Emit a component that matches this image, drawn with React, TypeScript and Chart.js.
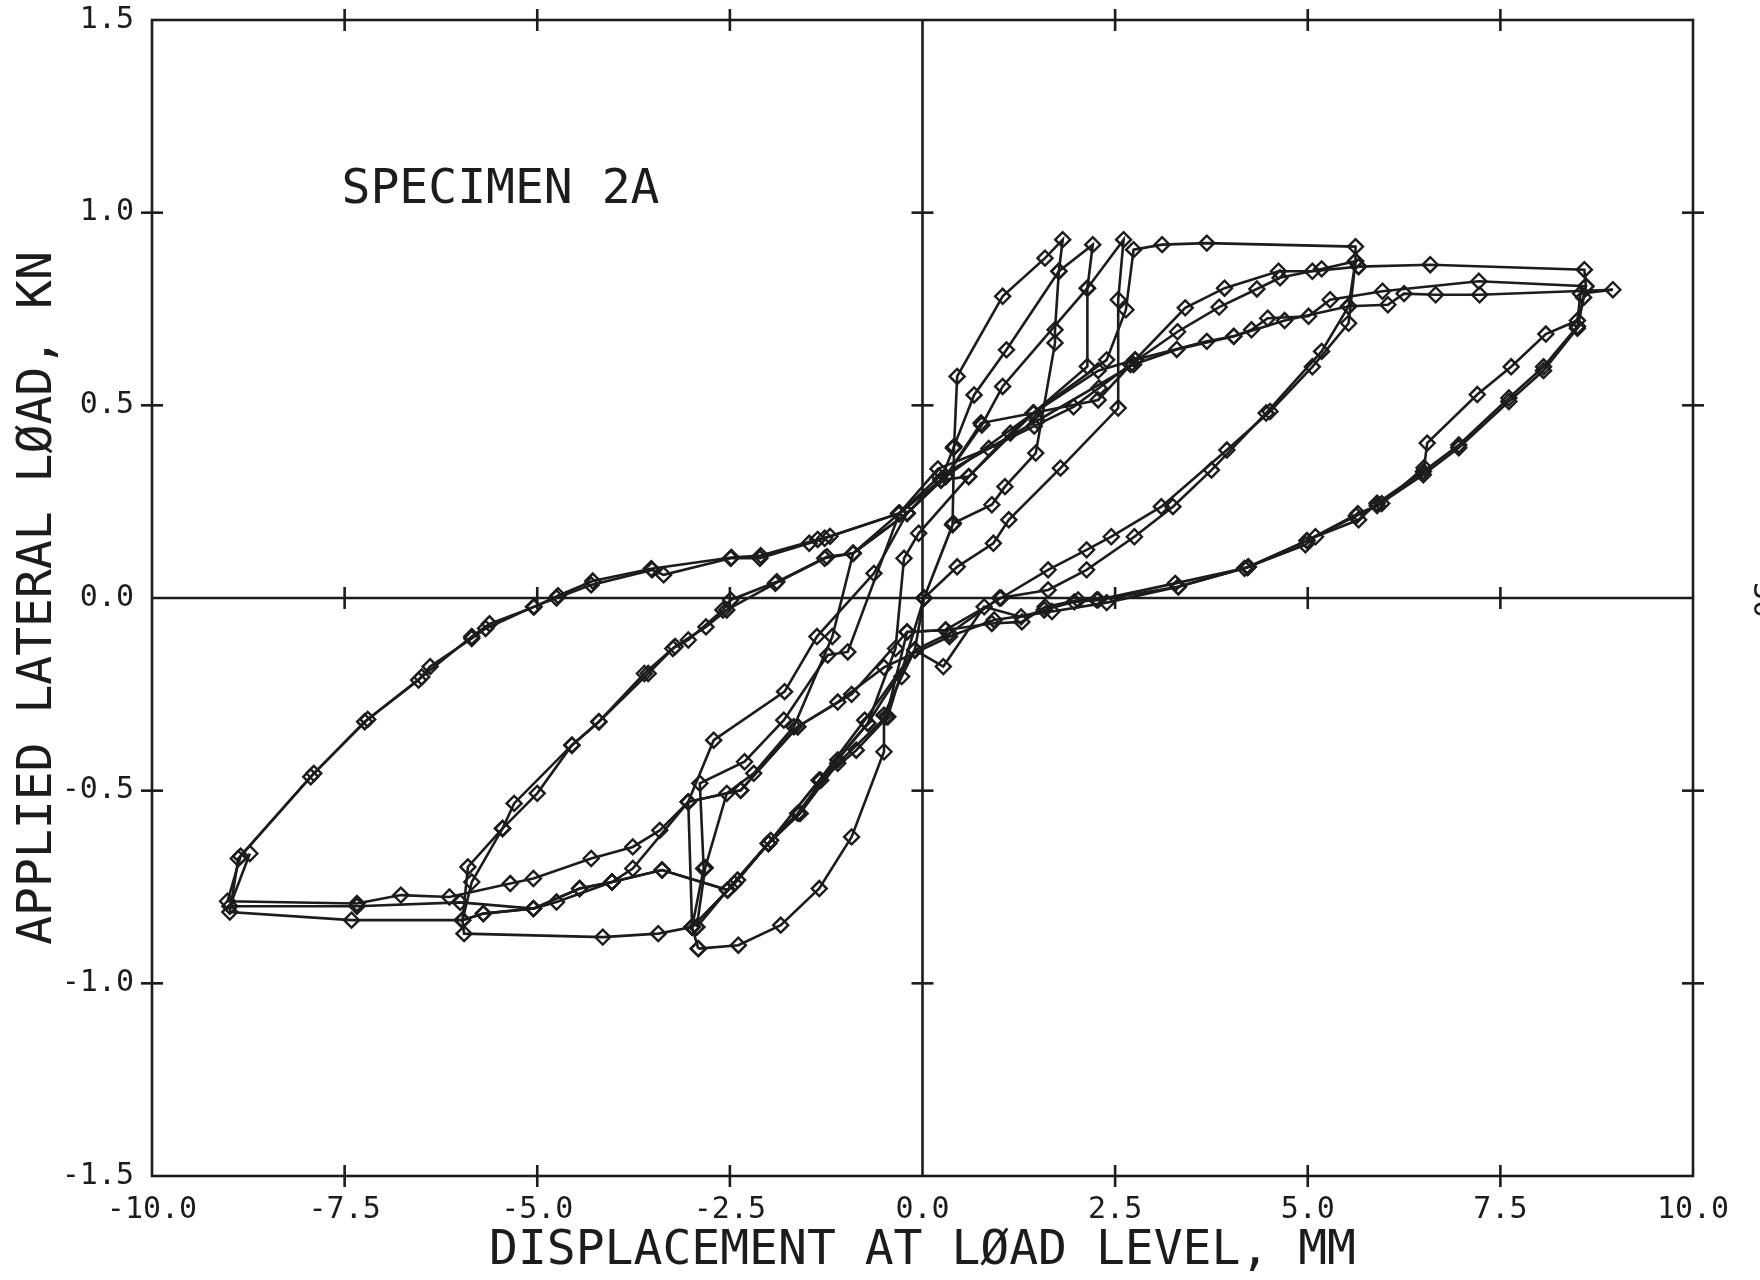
import React, { useEffect, useRef } from "react";
import { Chart, registerables } from "chart.js";

Chart.register(...registerables);

type P = [number, number];

// ---- Data (displacement mm, load kN) ----
const loadCycle1: P[] = [
  [0.02, 0.0], [0.39, 0.19], [0.41, 0.393], [0.45, 0.575], [1.04, 0.783], [1.59, 0.882], [1.82, 0.93],
  [1.77, 0.848], [1.72, 0.696], [1.72, 0.662], [1.47, 0.376], [1.07, 0.289], [0.9, 0.242], [0.4, 0.194], [0.02, 0.0],
  [-0.1, -0.135], [-0.27, -0.204], [-0.5, -0.304], [-0.5, -0.399], [-0.92, -0.62], [-1.34, -0.754],
  [-1.84, -0.849], [-2.39, -0.901], [-2.91, -0.91],
];

const loadCycle2: P[] = [
  [-2.91, -0.91], [-2.99, -0.854], [-3.04, -0.529], [-2.71, -0.369], [-1.79, -0.243], [-1.37, -0.1],
  [-0.63, 0.064], [-0.2, 0.22], [0.24, 0.306], [0.4, 0.389], [0.67, 0.527], [1.09, 0.644], [1.77, 0.848],
  [2.21, 0.917], [2.14, 0.804], [2.14, 0.601], [1.44, 0.48], [1.14, 0.428], [0.6, 0.315], [-0.05, 0.168],
  [-0.24, 0.103], [-0.35, -0.131], [-0.71, -0.325], [-1.1, -0.42], [-1.62, -0.559], [-1.97, -0.629],
  [-2.4, -0.732], [-2.99, -0.854],
];

const loadCycle3: P[] = [
  [-2.99, -0.854], [-2.84, -0.702], [-2.89, -0.481], [-2.31, -0.425], [-1.8, -0.317], [-1.23, -0.148],
  [-0.97, -0.14], [-0.3, 0.22], [0.3, 0.315], [0.77, 0.449], [1.04, 0.549], [2.14, 0.804], [2.61, 0.93],
  [2.54, 0.774], [2.54, 0.493], [1.79, 0.337], [1.12, 0.203], [0.92, 0.142], [0.45, 0.081], [0.02, 0.0],
  [-0.45, -0.308], [-0.86, -0.395], [-1.32, -0.473], [-1.59, -0.559], [-2.0, -0.637], [-2.53, -0.758],
  [-2.93, -0.854],
];

const mediumCycle1: P[] = [
  [-2.93, -0.854], [-2.82, -0.7], [-2.54, -0.507], [-2.19, -0.455], [-1.67, -0.334], [-1.17, -0.1],
  [-0.9, 0.116], [-0.2, 0.22], [0.3, 0.315], [0.76, 0.454], [1.44, 0.48], [2.39, 0.618], [2.64, 0.748],
  [2.74, 0.904], [3.11, 0.917], [3.69, 0.921], [5.62, 0.912],
  [5.62, 0.874], [5.53, 0.757], [5.18, 0.64], [4.46, 0.48], [3.75, 0.332], [3.25, 0.237], [2.75, 0.159],
  [2.13, 0.073], [1.63, 0.021], [1.0, 0.0], [0.35, -0.092], [-0.1, -0.135], [-0.75, -0.317],
  [-1.34, -0.473], [-2.0, -0.637], [-2.44, -0.741], [-2.99, -0.854], [-3.43, -0.871], [-4.15, -0.88],
  [-5.95, -0.871],
  [-5.97, -0.836], [-5.9, -0.698], [-5.45, -0.598], [-5.3, -0.533], [-4.55, -0.382], [-4.2, -0.321],
  [-3.61, -0.196], [-3.21, -0.126], [-2.81, -0.075], [-2.54, -0.031], [-1.91, 0.038], [-1.27, 0.103],
  [-0.9, 0.116], [-0.3, 0.22],
];

const mediumCycle2: P[] = [
  [-0.3, 0.22], [0.2, 0.335], [0.86, 0.388], [1.45, 0.446], [1.96, 0.496], [2.29, 0.545], [2.7, 0.606],
  [3.31, 0.691], [3.85, 0.755], [4.34, 0.802], [4.64, 0.831], [5.18, 0.854], [5.62, 0.874],
  [5.53, 0.713], [5.06, 0.6], [4.51, 0.484], [3.95, 0.384], [3.1, 0.237], [2.45, 0.159], [2.13, 0.125],
  [1.63, 0.073], [1.02, 0.0], [0.3, -0.083], [-0.2, -0.088], [-0.47, -0.308], [-1.1, -0.429],
  [-1.59, -0.559], [-2.0, -0.637], [-2.53, -0.758], [-3.38, -0.706], [-4.03, -0.737], [-4.45, -0.754],
  [-5.05, -0.806], [-5.7, -0.819], [-5.97, -0.836],
  [-5.85, -0.737], [-5.45, -0.598], [-5.0, -0.507], [-4.55, -0.382], [-4.2, -0.321], [-3.56, -0.196],
  [-3.24, -0.131], [-3.04, -0.109], [-2.59, -0.031], [-2.49, -0.005], [-1.89, 0.042], [-1.24, 0.107],
  [-0.9, 0.116], [-0.2, 0.22],
];

const mediumCycle3: P[] = [
  [-0.2, 0.22], [0.24, 0.306], [0.6, 0.315], [1.44, 0.48], [2.28, 0.514], [2.76, 0.618], [3.41, 0.753],
  [3.92, 0.804], [4.62, 0.848], [5.06, 0.848], [5.66, 0.86],
];

const largeCycle1: P[] = [
  [5.66, 0.86], [6.59, 0.865], [8.59, 0.852],
  [8.61, 0.809], [8.5, 0.705], [8.06, 0.6], [7.61, 0.519], [6.96, 0.397], [6.5, 0.328], [5.9, 0.246],
  [5.66, 0.203], [5.1, 0.159], [4.97, 0.138], [4.23, 0.081], [3.32, 0.029], [2.28, -0.005],
  [1.97, -0.01], [1.58, -0.031], [1.28, -0.049], [0.8, -0.023], [0.27, -0.178], [-0.1, -0.135],
  [-0.71, -0.325], [-1.34, -0.473], [-2.0, -0.637], [-2.53, -0.758], [-3.38, -0.706], [-4.03, -0.737],
  [-4.45, -0.754], [-5.05, -0.806], [-5.7, -0.819], [-5.97, -0.836], [-7.41, -0.836], [-8.99, -0.815],
  [-8.88, -0.676], [-7.94, -0.464], [-7.24, -0.321], [-6.54, -0.213], [-6.39, -0.178], [-5.85, -0.105],
  [-5.67, -0.079], [-5.05, -0.023], [-4.75, 0.0], [-4.3, 0.034], [-3.51, 0.073], [-3.36, 0.06],
  [-2.49, 0.103], [-2.11, 0.103], [-1.47, 0.142], [-1.27, 0.155], [-0.3, 0.22],
];

const largeCycle2: P[] = [
  [-0.3, 0.22], [0.24, 0.306], [1.44, 0.48], [2.28, 0.59], [2.76, 0.618], [3.69, 0.666], [4.04, 0.679],
  [4.27, 0.696], [4.48, 0.726], [5.01, 0.731], [5.29, 0.774], [5.97, 0.796], [7.22, 0.822], [8.61, 0.809],
  [8.58, 0.78], [8.5, 0.7], [8.06, 0.59], [7.61, 0.51], [6.96, 0.39], [6.5, 0.32], [5.9, 0.24],
  [5.63, 0.213], [4.99, 0.149], [4.22, 0.079], [3.28, 0.038], [2.26, -0.005], [2.02, -0.005],
  [1.59, -0.023], [1.29, -0.062], [0.9, -0.066], [0.3, -0.083], [-0.2, -0.088], [-0.92, -0.25],
  [-1.62, -0.334], [-2.36, -0.499], [-3.04, -0.529], [-3.41, -0.603], [-3.76, -0.646], [-4.3, -0.676],
  [-5.05, -0.728], [-5.35, -0.741], [-6.14, -0.776], [-6.77, -0.771], [-7.34, -0.793], [-9.02, -0.787],
  [-8.85, -0.67], [-7.9, -0.455], [-7.2, -0.315], [-6.5, -0.205], [-5.85, -0.1], [-5.62, -0.067],
  [-5.04, -0.023], [-4.73, 0.006], [-4.28, 0.044], [-3.52, 0.076], [-2.48, 0.105], [-2.1, 0.11],
  [-1.36, 0.152], [-1.2, 0.16], [-0.31, 0.219],
];

const largeCycle3: P[] = [
  [-0.31, 0.219], [0.22, 0.315], [1.49, 0.46], [2.74, 0.606], [3.3, 0.645], [4.04, 0.679], [4.7, 0.72],
  [5.53, 0.757], [6.04, 0.761], [6.25, 0.79], [6.66, 0.787], [7.23, 0.787], [8.96, 0.8],
  [8.54, 0.79], [8.5, 0.72], [8.09, 0.685], [7.64, 0.6], [7.2, 0.528], [6.55, 0.402], [6.51, 0.338],
  [5.96, 0.245], [5.65, 0.219], [4.99, 0.149], [4.18, 0.077], [3.32, 0.029], [2.39, -0.012],
  [1.68, -0.035], [0.93, -0.057], [0.35, -0.1], [-0.5, -0.18], [-1.1, -0.27], [-1.62, -0.334],
  [-2.36, -0.499], [-3.04, -0.529], [-3.76, -0.702], [-4.03, -0.737], [-4.75, -0.789], [-5.05, -0.806],
  [-6.0, -0.79], [-7.34, -0.8], [-8.99, -0.8], [-8.73, -0.663],
];

const allLoops: P[][] = [
  loadCycle1, loadCycle2, loadCycle3, mediumCycle1, mediumCycle2, mediumCycle3,
  largeCycle1, largeCycle2, largeCycle3,
];

const xTickValues = [-7.5, -5, -2.5, 2.5, 5, 7.5];
const yTickValues = [-1, -0.5, 0.5, 1];

const xTitle = "DISPLACEMENT AT LØAD LEVEL, MM";
const yTitle = "APPLIED LATERAL LØAD, KN";
const specimenLabel = "SPECIMEN 2A";
const pageMark = "30";

const INK = "#1c1c1c";
const FONT = "'DejaVu Sans Mono', 'Liberation Mono', monospace";

const framePlugin = {
  id: "plotterFrame",
  beforeDatasetsDraw(chart: any) {
    const { ctx, chartArea, scales } = chart;
    const { left, right, top, bottom } = chartArea;
    const xs = scales.x;
    const ys = scales.y;
    const x0 = xs.getPixelForValue(0);
    const y0 = ys.getPixelForValue(0);
    const seg = (a: number, b: number, c: number, d: number) => {
      ctx.beginPath();
      ctx.moveTo(a, b);
      ctx.lineTo(c, d);
      ctx.stroke();
    };
    ctx.save();
    ctx.strokeStyle = INK;
    ctx.lineWidth = 2.6;
    ctx.lineCap = "butt";
    ctx.strokeRect(left, top, right - left, bottom - top);
    seg(x0, top, x0, bottom);
    seg(left, y0, right, y0);
    const t = 11;
    xTickValues.forEach((v) => {
      const px = xs.getPixelForValue(v);
      [top, bottom, y0].forEach((yy) => seg(px, yy - t, px, yy + t));
    });
    yTickValues.forEach((v) => {
      const py = ys.getPixelForValue(v);
      [left, right, x0].forEach((xx) => seg(xx - t, py, xx + t, py));
    });
    ctx.restore();
  },
  afterDraw(chart: any) {
    const { ctx, scales } = chart;
    ctx.save();
    ctx.fillStyle = INK;
    ctx.font = `48px ${FONT}`;
    ctx.textAlign = "left";
    ctx.textBaseline = "middle";
    ctx.fillText(specimenLabel, scales.x.getPixelForValue(-7.54), scales.y.getPixelForValue(1.057));
    ctx.translate(1762, 600);
    ctx.rotate(Math.PI / 2);
    ctx.font = `30px ${FONT}`;
    ctx.textAlign = "center";
    ctx.fillText(pageMark, 0, 0);
    ctx.restore();
  },
};

export default function App() {
  const ref = useRef<HTMLCanvasElement | null>(null);
  useEffect(() => {
    if (!ref.current) return;
    const datasets = allLoops.map((loop, i) => ({
      label: `loop ${i + 1}`,
      data: loop.map(([x, y]) => ({ x, y })),
      showLine: true,
      borderColor: INK,
      borderWidth: 2.6,
      pointStyle: "rectRot" as const,
      pointRadius: 7.5,
      pointBorderWidth: 2.4,
      pointBorderColor: INK,
      pointBackgroundColor: "rgba(255,255,255,0)",
      tension: 0,
    }));
    const chart = new Chart(ref.current, {
      type: "scatter",
      data: { datasets },
      options: {
        animation: false,
        responsive: false,
        devicePixelRatio: 1,
        layout: { padding: { top: 20, right: 67, left: 0, bottom: 0 } },
        plugins: { legend: { display: false }, tooltip: { enabled: false } },
        scales: {
          x: {
            type: "linear",
            position: "bottom",
            min: -10,
            max: 10,
            grid: { display: false, drawTicks: false },
            border: { display: false },
            ticks: {
              stepSize: 2.5,
              padding: 16,
              color: INK,
              autoSkip: false,
              maxRotation: 0,
              font: { family: FONT, size: 30 },
              callback: (v: any) => Number(v).toFixed(1),
            },
            title: {
              display: true,
              text: xTitle,
              color: INK,
              font: { family: FONT, size: 48 },
              padding: { top: 0, bottom: 0 },
            },
            afterFit: (s: any) => {
              s.height = 104;
              s.paddingLeft = 0;
              s.paddingRight = 0;
            },
          },
          y: {
            type: "linear",
            position: "left",
            min: -1.5,
            max: 1.5,
            grid: { display: false, drawTicks: false },
            border: { display: false },
            ticks: {
              stepSize: 0.5,
              padding: 18,
              color: INK,
              autoSkip: false,
              font: { family: FONT, size: 30 },
              callback: (v: any) => Number(v).toFixed(1),
            },
            title: {
              display: true,
              text: yTitle,
              color: INK,
              font: { family: FONT, size: 48 },
              padding: { top: 10, bottom: 0 },
            },
            afterFit: (s: any) => {
              s.width = 152;
              s.paddingTop = 0;
              s.paddingBottom = 0;
            },
          },
        },
      },
      plugins: [framePlugin],
    });
    return () => chart.destroy();
  }, []);
  return (
    <div style={{ position: "absolute", left: 0, top: 0, width: 1760, height: 1280, background: "#fff" }}>
      <canvas ref={ref} width={1760} height={1280} style={{ display: "block", width: 1760, height: 1280 }} />
    </div>
  );
}
